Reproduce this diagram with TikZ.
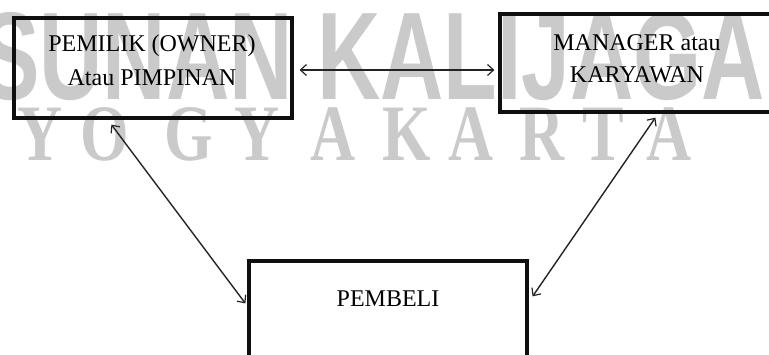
\documentclass[tikz,border=0pt]{standalone}
\usepackage{fontspec}
\usepackage{graphicx}
\setmainfont{Liberation Serif}
\newfontfamily\wmsans{Liberation Sans}
\usetikzlibrary{arrows.meta,calc}
\definecolor{wmgray}{RGB}{202,202,202}
\definecolor{inkline}{RGB}{15,15,15}
\definecolor{arrowink}{RGB}{35,35,35}
\tikzset{
  box/.style={draw=inkline, line width=3.2pt, rectangle, inner sep=0pt},
  lbl/.style={anchor=base, inner sep=0pt, font=\fontsize{24}{24}\selectfont, text=black},
  wmletter/.style={anchor=base, inner sep=0pt, text=wmgray, font=\fontsize{80}{80}\selectfont\bfseries},
  tipbarb/.tip={Straight Barb[length=6pt,width=11pt,line width=1.2pt]},
  arr/.style={draw=arrowink, line width=1.4pt, tipbarb-tipbarb}
}
\begin{document}
\begin{tikzpicture}[x=1pt, y=-1pt]
\useasboundingbox (0,0) rectangle (769,354);
\clip (0,0) rectangle (769,354);
% watermark
\node[anchor=base west, inner sep=0pt, text=wmgray] (wmtop) at (-19,99)
  {\resizebox{784pt}{87pt}{\wmsans\bfseries SUNAN KALIJAGA}};
\foreach \ch/\cx [count=\i] in {Y/40,O/105,G/189,Y/257,A/333,K/407,A/471,R/542,T/603,A/669}{
  \node[wmletter] (wy\i) at (\cx,160) {\scalebox{0.78}[1]{\ch}};
}
% boxes
\node[box, minimum width=278pt, minimum height=100pt] (owner) at (153,68) {};
\node[box, minimum width=274pt, minimum height=98pt] (mgr) at (637,63) {};
\node[box, minimum width=278pt, minimum height=139pt] (buyer) at (388,330.5) {};
% texts
\node[lbl] (ownerA) at (152,51) {PEMILIK (OWNER)};
\node[lbl] (ownerB) at (152,85) {Atau PIMPINAN};
\node[lbl] (mgrA) at (637,50) {MANAGER atau};
\node[lbl] (mgrB) at (637,82) {KARYAWAN};
\node[lbl] (buyerA) at (388,306) {PEMBELI};
% connectors
\draw[arr] ($(owner.east)+(6,2)$) -- ($(mgr.west)+(-4,7)$);
\draw[arr] ($(owner.south west)+(99,5)$) -- ($(buyer.north west)+(-2,44)$);
\draw[arr] ($(mgr.south west)+(157,4)$) -- ($(buyer.north east)+(4,37)$);
\end{tikzpicture}
\end{document}
